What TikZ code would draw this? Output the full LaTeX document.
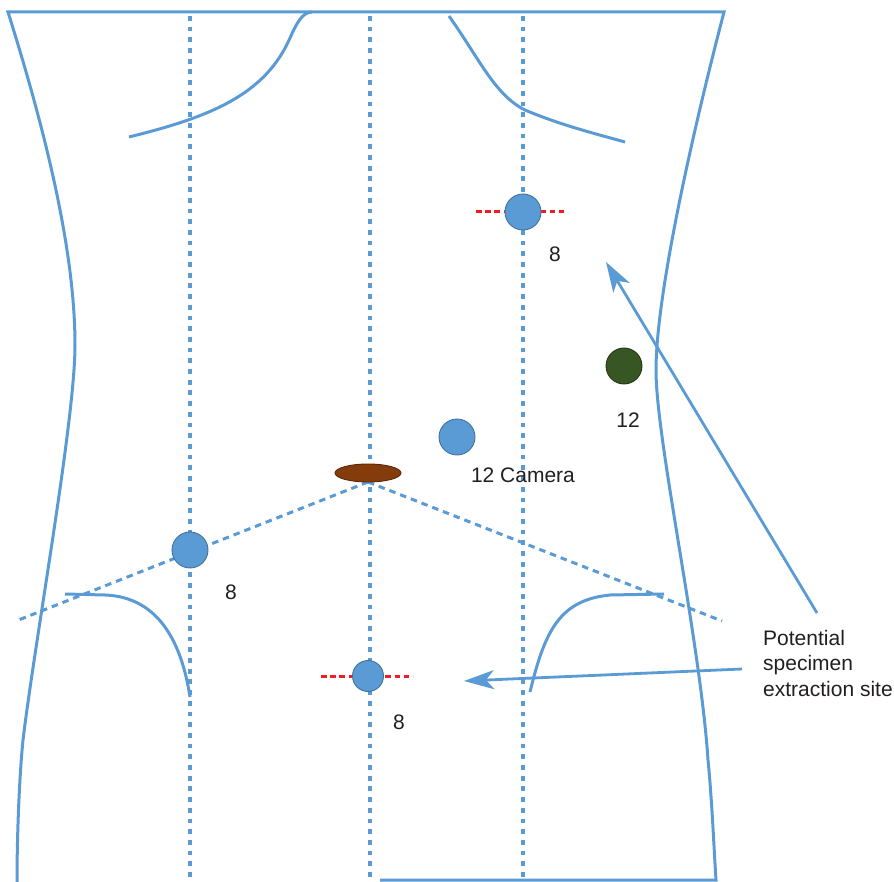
\documentclass[tikz,border=0pt]{standalone}
\usepackage{fontspec}
\setmainfont{Liberation Sans}
\usetikzlibrary{arrows.meta,shapes.geometric}
\definecolor{bodyblue}{HTML}{5B9BD5}
\definecolor{portedge}{HTML}{41719C}
\definecolor{portgreen}{HTML}{375623}
\definecolor{greenedge}{HTML}{24391A}
\definecolor{umbbrown}{HTML}{843C0C}
\definecolor{brownedge}{HTML}{5A2808}
\definecolor{cutred}{HTML}{F21C24}
\definecolor{labeltext}{HTML}{231F20}

\begin{document}
\begin{tikzpicture}[x=1pt,y=-1pt,
  outline/.style={draw=bodyblue,line width=3pt},
  guide/.style={draw=bodyblue,line width=3.2pt,dash pattern=on 4.8pt off 5.9pt},
  rib/.style={draw=bodyblue,line width=3pt,dash pattern=on 6.5pt off 5pt},
  incision/.style={draw=cutred,line width=3pt,dash pattern=on 5.5pt off 3.7pt},
  port/.style={circle,fill=bodyblue,draw=portedge,line width=0.9pt,minimum size=36pt,inner sep=0pt},
  smallport/.style={port,minimum size=31pt},
  assistport/.style={port,fill=portgreen,draw=greenedge},
  navel/.style={ellipse,fill=umbbrown,draw=brownedge,line width=0.9pt,minimum width=66pt,minimum height=18pt,inner sep=0pt},
  lbl/.style={text=labeltext,font=\fontsize{21}{25.5}\selectfont,inner sep=0pt},
  pointer/.style={draw=bodyblue,line width=2.8pt,-{Stealth[length=30pt,width=19pt,inset=8pt]}}
]
\useasboundingbox (0,0) rectangle (894,882);

% torso outline: left flank, shoulders line, right flank, bottom edge
\draw[outline,line join=miter]
  (17,882) .. controls (17,840) and (19,780) .. (23,740)
  .. controls (35,640) and (75,420) .. (75,345)
  .. controls (75,250) and (45,130) .. (8,12)
  -- (724,12)
  .. controls (688,150) and (656,300) .. (656,370)
  .. controls (656,440) and (700,640) .. (708,760)
  .. controls (712,800) and (714,850) .. (716,880)
  -- (380,880);

% costal margins
\draw[outline] (129,137) .. controls (210,117) and (265,95) .. (290,38)
  .. controls (297,22) and (303,12) .. (312,12);
\draw[outline] (449,16) .. controls (480,60) and (495,95) .. (525,110)
  .. controls (560,125) and (600,135) .. (625,142);

% inguinal folds
\draw[outline] (65,594) -- (105,595) .. controls (160,597) and (182,645) .. (190,697);
\draw[outline] (530,692) .. controls (545,630) and (560,600) .. (610,595) -- (664,594);

% vertical reference lines
\coordinate (lt) at (190,16);  \coordinate (lb) at (190,878);
\coordinate (mt) at (370,16);  \coordinate (mb) at (370,878);
\coordinate (rt) at (523,16);  \coordinate (rb) at (523,878);
\draw[guide] (lt) -- (lb);
\draw[guide] (mt) -- (mb);
\draw[guide] (rt) -- (rb);

% lines from the umbilicus towards the flanks
\coordinate (apex) at (368,482);
\coordinate (ribL) at (16,621);
\coordinate (ribR) at (722,621);
\draw[rib] (apex) -- (ribL);
\draw[rib] (apex) -- (ribR);

% extraction incisions
\coordinate (incTa) at (476,212); \coordinate (incTb) at (567,212);
\coordinate (incBa) at (321,676); \coordinate (incBb) at (413,676);
\draw[incision] (incTa) -- (incTb);
\draw[incision] (incBa) -- (incBb);

% umbilicus and ports
\node[navel] (umb) at (368,473) {};
\node[port] (pTop) at (523,212) {};
\node[assistport] (pGreen) at (624,366) {};
\node[port] (pCam) at (457,437) {};
\node[port] (pLeft) at (190,550) {};
\node[smallport] (pLow) at (368,676) {};

% port labels
\node[lbl] (tTop) at (555,254) {8};
\node[lbl] (tGreen) at (628,420) {12};
\node[lbl] (tCam) at (523,475) {12 Camera};
\node[lbl] (tLeft) at (231,592) {8};
\node[lbl] (tLow) at (399,722) {8};

% callout
\node[lbl,anchor=north west,align=left] (site) at (763,630)
  {Potential\\specimen\\extraction site};
\coordinate (a1s) at (817,613);
\coordinate (a1e) at (606,262);
\coordinate (a2s) at (742,669);
\coordinate (a2e) at (464,681);
\draw[pointer] (a1s) -- (a1e);
\draw[pointer] (a2s) -- (a2e);
\end{tikzpicture}
\end{document}
